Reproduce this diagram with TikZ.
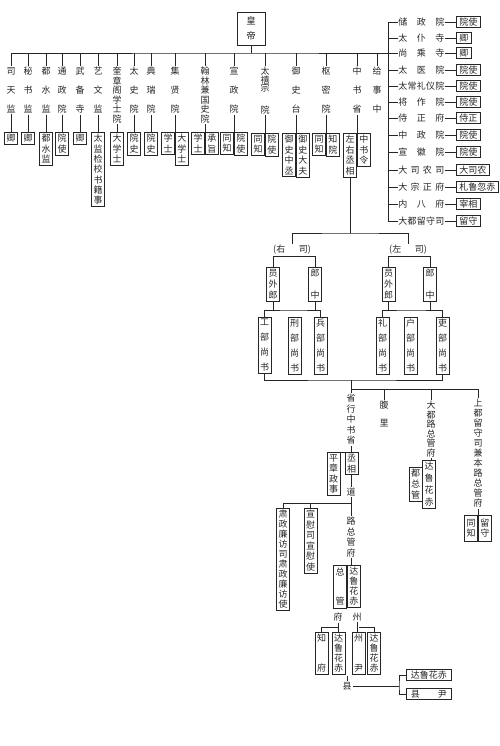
\documentclass[tikz,border=0pt]{standalone}
\usepackage{fontspec}
\setmainfont{Noto Sans CJK SC}
\usetikzlibrary{positioning,calc}
\newcommand\spr[2][46pt]{\makebox[#1]{#2}}

\begin{document}
\begin{tikzpicture}[x=1pt, y=-1pt, line width=0.6pt, color=black!85,
    every node/.style={inner sep=1pt, align=center, font=\fontsize{9}{10.5}\selectfont},
    dept/.style={anchor=north, font=\fontsize{9}{#1}\selectfont}, dept/.default=19,
    office/.style={draw, inner sep=2pt, minimum width=13pt, font=\fontsize{9}{#1}\selectfont}, office/.default=10.5,
    offh/.style={draw, anchor=west, inner xsep=3pt, inner ysep=1.6pt},
    rowtxt/.style={anchor=west, inner sep=0pt}]
    \useasboundingbox[fill=white] (0,0) rectangle (500,746);

    % emperor and the top bar
    \node[office=15, font=\fontsize{9.5}{15}\selectfont, minimum width=28pt, minimum height=33pt] (HD) at (251,28.5) {皇\\帝};
    \coordinate (TB) at (251,53);
    \coordinate (RT) at (388,22);
    \coordinate (RB) at (388,221);
    \draw (HD.south) -- (TB);

    % central offices
    \node[dept] (STJ) at (11,66) {司\\天\\监};
    \node[dept] (MSJ) at (28,66) {秘\\书\\监};
    \node[dept] (DSJ) at (46,66) {都\\水\\监};
    \node[dept] (TZY) at (62,66) {通\\政\\院};
    \node[dept] (WBS) at (80,66) {武\\备\\寺};
    \node[dept] (YWJ) at (98,66) {艺\\文\\监};
    \node[dept=9.5] (KZG) at (117,66) {奎\\章\\阁\\学\\士\\院};
    \node[dept] (TSY) at (134,66) {太\\史\\院};
    \node[dept] (DRY) at (151,66) {典\\瑞\\院};
    \node[dept] (JXY) at (175,66) {集\\贤\\院};
    \node[dept=9.5] (HLY) at (205,66) {翰\\林\\兼\\国\\史\\院};
    \node[dept] (XZY) at (234,66) {宣\\政\\院};
    \node[dept=8.5] (TXZ) at (265,66) {太\\禧\\宗\\[13pt]院};
    \node[dept] (YST) at (296,66) {御\\史\\台};
    \node[dept] (SMY) at (326,66) {枢\\密\\院};
    \node[dept] (ZSS) at (357,66) {中\\书\\省};
    \node[dept] (JSZ) at (377,66) {给\\事\\中};

    \draw (STJ.north) |- (TB) -- (TB -| RT);
    \draw (MSJ.north) -- (MSJ.north |- TB) (DSJ.north) -- (DSJ.north |- TB)
          (TZY.north) -- (TZY.north |- TB) (WBS.north) -- (WBS.north |- TB)
          (YWJ.north) -- (YWJ.north |- TB) (KZG.north) -- (KZG.north |- TB)
          (TSY.north) -- (TSY.north |- TB) (DRY.north) -- (DRY.north |- TB)
          (JXY.north) -- (JXY.north |- TB) (HLY.north) -- (HLY.north |- TB)
          (XZY.north) -- (XZY.north |- TB) (TXZ.north) -- (TXZ.north |- TB)
          (YST.north) -- (YST.north |- TB) (SMY.north) -- (SMY.north |- TB)
          (ZSS.north) -- (ZSS.north |- TB) (JSZ.north) -- (JSZ.north |- TB);

    % their heads
    \node[office, anchor=north] (STJ1) at (11,132) {卿};
    \node[office, anchor=north] (MSJ1) at (28,132) {卿};
    \node[office, anchor=north] (DSJ1) at (46,132) {都\\水\\监};
    \node[office, anchor=north] (TZY1) at (62,132) {院\\使};
    \node[office, anchor=north] (WBS1) at (80,132) {卿};
    \node[office=10.3, anchor=north] (YWJ1) at (98,132) {太\\监\\检\\校\\书\\籍\\事};
    \node[office, anchor=north] (KZG1) at (117,132) {大\\学\\士};
    \node[office, anchor=north] (TSY1) at (134,132) {院\\史};
    \node[office, anchor=north] (DRY1) at (151,132) {院\\史};
    \node[office, anchor=north east] (JXY1) at (175,132) {学\\士};
    \node[office, anchor=north west] (JXY2) at (175,132) {大\\学\\士};
    \node[office, anchor=north east] (HLY1) at (205,132) {学\\士};
    \node[office, anchor=north west] (HLY2) at (205,132) {承\\旨};
    \node[office, anchor=north east] (XZY1) at (234,132) {同\\知};
    \node[office, anchor=north west] (XZY2) at (234,132) {院\\使};
    \node[office, anchor=north east] (TXZ1) at (265,133) {同\\知};
    \node[office, anchor=north west] (TXZ2) at (265,133) {院\\使};
    \node[office, anchor=north east] (YST1) at (296,133) {御\\史\\中\\丞};
    \node[office, anchor=north west] (YST2) at (296,133) {御\\史\\大\\夫};
    \node[office, anchor=north east] (SMY1) at (326,133) {同\\知};
    \node[office, anchor=north west] (SMY2) at (326,133) {知\\院};
    \node[office, anchor=north east] (ZYCX) at (357,133) {左\\右\\丞\\相};
    \node[office, anchor=north west] (ZSL) at (357,133) {中\\书\\令};

    \draw (STJ.south) -- (STJ1.north) (MSJ.south) -- (MSJ1.north)
          (DSJ.south) -- (DSJ1.north) (TZY.south) -- (TZY1.north)
          (WBS.south) -- (WBS1.north) (YWJ.south) -- (YWJ1.north)
          (KZG.south) -- (KZG1.north) (TSY.south) -- (TSY1.north)
          (DRY.south) -- (DRY1.north) (JXY.south) -- (JXY1.north east)
          (HLY.south) -- (HLY1.north east) (XZY.south) -- (XZY1.north east)
          (TXZ.south) -- (TXZ1.north east) (YST.south) -- (YST1.north east)
          (SMY.south) -- (SMY1.north east) (ZSS.south) -- (ZYCX.north east);

    % right column
    \draw (RT) -- (RB);
    \node[rowtxt] (CZY) at (398,22) {\spr{储\hfill 政\hfill 院}};
    \node[offh] (CZY1) at (456,22) {院使};
    \node[rowtxt] (TPS) at (398,38) {\spr{太\hfill 仆\hfill 寺}};
    \node[offh] (TPS1) at (456,38) {卿};
    \node[rowtxt] (SCS) at (398,53) {\spr{尚\hfill 乘\hfill 寺}};
    \node[offh] (SCS1) at (456,53) {卿};
    \node[rowtxt] (TYY) at (398,70) {\spr{太\hfill 医\hfill 院}};
    \node[offh] (TYY1) at (456,70) {院使};
    \node[rowtxt] (TCL) at (398,86) {\spr{太\hfill 常\hfill 礼\hfill 仪\hfill 院}};
    \node[offh] (TCL1) at (456,86) {院使};
    \node[rowtxt] (JZY) at (398,102) {\spr{将\hfill 作\hfill 院}};
    \node[offh] (JZY1) at (456,102) {院使};
    \node[rowtxt] (SZF) at (398,118) {\spr{侍\hfill 正\hfill 府}};
    \node[offh] (SZF1) at (456,118) {侍正};
    \node[rowtxt] (ZZY) at (398,135) {\spr{中\hfill 政\hfill 院}};
    \node[offh] (ZZY1) at (456,135) {院使};
    \node[rowtxt] (XHY) at (398,152) {\spr{宣\hfill 徽\hfill 院}};
    \node[offh] (XHY1) at (456,152) {院使};
    \node[rowtxt] (DSN) at (398,170) {\spr{大\hfill 司\hfill 农\hfill 司}};
    \node[offh] (DSN1) at (456,170) {大司农};
    \node[rowtxt] (DZZ) at (398,187) {\spr{大\hfill 宗\hfill 正\hfill 府}};
    \node[offh] (DZZ1) at (456,187) {札鲁忽赤};
    \node[rowtxt] (NBF) at (398,204) {\spr{内\hfill 八\hfill 府}};
    \node[offh] (NBF1) at (456,204) {宰相};
    \node[rowtxt] (DDLS) at (398,221) {\spr{大\hfill 都\hfill 留\hfill 守\hfill 司}};
    \node[offh] (DDLS1) at (456,221) {留守};

    \draw (CZY.west -| RT) -- (CZY.west) (CZY.east) -- (CZY1.west);
    \draw (TPS.west -| RT) -- (TPS.west) (TPS.east) -- (TPS1.west);
    \draw (SCS.west -| RT) -- (SCS.west) (SCS.east) -- (SCS1.west);
    \draw (TYY.west -| RT) -- (TYY.west) (TYY.east) -- (TYY1.west);
    \draw (TCL.west -| RT) -- (TCL.west) (TCL.east) -- (TCL1.west);
    \draw (JZY.west -| RT) -- (JZY.west) (JZY.east) -- (JZY1.west);
    \draw (SZF.west -| RT) -- (SZF.west) (SZF.east) -- (SZF1.west);
    \draw (ZZY.west -| RT) -- (ZZY.west) (ZZY.east) -- (ZZY1.west);
    \draw (XHY.west -| RT) -- (XHY.west) (XHY.east) -- (XHY1.west);
    \draw (DSN.west -| RT) -- (DSN.west) (DSN.east) -- (DSN1.west);
    \draw (DZZ.west -| RT) -- (DZZ.west) (DZZ.east) -- (DZZ1.west);
    \draw (NBF.west -| RT) -- (NBF.west) (NBF.east) -- (NBF1.west);
    \draw (DDLS.west -| RT) -- (DDLS.west) (DDLS.east) -- (DDLS1.west);

    % right and left offices under the chancellors
    \coordinate (ZX) at (350,233);
    \node (YS) at (292,250) {(右\quad\enspace 司)};
    \node (ZS) at (408,250) {(左\quad\enspace 司)};
    \draw (ZYCX.south) -- (ZYCX.south |- ZX);
    \draw (YS.north) |- (ZYCX.south |- ZX) -| (ZS.north);

    \node[office=11, anchor=north] (YWL1) at (273,267) {员\\外\\郎};
    \node[office=11, anchor=north] (LZ1) at (315,267) {郎\\[11pt]中};
    \node[office=11, anchor=north] (YWL2) at (388.5,267) {员\\外\\郎};
    \node[office=11, anchor=north] (LZ2) at (430,267) {郎\\[11pt]中};
    \draw (YWL1.north) |- (YS.south) -| (LZ1.north);
    \draw (YWL2.north) |- (ZS.south) -| (LZ2.north);

    \node[office=15, anchor=north] (GB) at (264.5,317) {工\\部\\尚\\书};
    \node[office=15, anchor=north] (XB) at (294.5,317) {刑\\部\\尚\\书};
    \node[office=15, anchor=north] (BB) at (320.5,317) {兵\\部\\尚\\书};
    \node[office=15, anchor=north] (LB) at (382.5,317) {礼\\部\\尚\\书};
    \node[office=15, anchor=north] (HB) at (410.5,317) {户\\部\\尚\\书};
    \node[office=15, anchor=north] (LIB) at (442.5,317) {吏\\部\\尚\\书};
    \coordinate (YSB) at (294.5,310);
    \coordinate (ZSB) at (410.5,310);
    \draw (GB.north) |- (YSB) -| (BB.north);
    \draw (YWL1.south) -- (YWL1.south |- YSB) (LZ1.south) -- (LZ1.south |- YSB);
    \draw (LB.north) |- (ZSB) -| (LIB.north);
    \draw (YWL2.south) -- (YWL2.south |- ZSB) (LZ2.south) -- (LZ2.south |- ZSB);

    % local government
    \coordinate (LBB) at (351,380);
    \coordinate (DFB) at (351,389);
    \draw (GB.south) |- (LBB) -| (LIB.south);
    \node[dept=10.5] (XZS) at (351,393) {省\\行\\中\\书\\省};
    \node[dept=18] (FL) at (384,400) {腹\\里};
    \node[dept=9.5] (DDZ) at (431,400) {大\\都\\路\\总\\管\\府};
    \node[dept=10] (SDZ) at (478,398) {上\\都\\留\\守\\司\\兼\\本\\路\\总\\管\\府};
    \draw (LBB) -- (XZS.north);
    \draw (DFB) -| (SDZ.north);
    \draw (FL.north) -- (FL.north |- DFB) (DDZ.north) -- (DDZ.north |- DFB);

    \node[office=12, anchor=north] (DDZ1) at (429,460) {达\\鲁\\花\\赤};
    \node[office=11, anchor=north east] (DDZ2) at (422.5,467) {都\\总\\管};
    \draw (DDZ.south) -- (DDZ.south |- DDZ1.north);
    \node[office, anchor=north east, minimum height=26pt] (SDZ1) at (478,515) {同\\知};
    \node[office, anchor=north west, minimum height=26pt] (SDZ2) at (478,515) {留\\守};
    \draw (SDZ.south) -- (SDZ1.north east);

    \node[office, anchor=north] (CX) at (351.5,452) {丞\\相};
    \node[office, anchor=north] (PZ) at (333.5,452) {平\\章\\政\\事};
    \draw (XZS.south) -- (XZS.south |- CX.north) (PZ.north east) -- (CX.north west);
    \node (DAO) at (351,492) {道};
    \draw (CX.south -| DAO) -- (DAO.north);
    \coordinate (DB) at (351,503);
    \node[office=10, anchor=north] (SZ) at (283,508) {肃\\政\\廉\\访\\司\\肃\\政\\廉\\访\\使};
    \node[office, anchor=north] (XW) at (310.5,508) {宣\\慰\\司\\宣\\慰\\使};
    \draw (SZ.north) |- (DB) (XW.north) -- (XW.north |- DB);

    \node[dept=10.5] (LZGF) at (351,516) {路\\总\\管\\府};
    \draw (DAO.south) -- (LZGF.north);
    \node[office=10, anchor=north west] (LDH) at (347,565) {达\\鲁\\花\\赤};
    \node[office=11, anchor=north east, minimum height=42.5pt] (LZG) at (347,565) {总\\[18pt]管};
    \draw (LZGF.south) -- (LZGF.south |- LDH.north);

    \node (FU) at (338,617) {府};
    \node (ZHOU) at (357,617) {州};
    \node[office=10, anchor=north] (ZF) at (321.5,632) {知\\[20pt]府};
    \node[office=10, anchor=north] (FDH) at (338.5,632) {达\\鲁\\花\\赤};
    \node[office=10, anchor=north] (ZY) at (358.5,632) {州\\[20pt]尹};
    \node[office=10, anchor=north] (ZDH) at (374,632) {达\\鲁\\花\\赤};
    \coordinate (FB) at (330,627);
    \draw (FU.south) -- (FU.south |- FDH.north) (ZF.north) |- (FDH.north |- FB);
    \draw (ZHOU.south) -- (ZHOU.south |- ZY.north) (ZDH.north) |- (ZY.north |- FB);

    \node (XIAN) at (347,686) {县};
    \coordinate (XT) at (347,676);
    \coordinate (XJ) at (399,686);
    \node[offh, minimum width=45pt] (XDH) at (406,675) {达鲁花赤};
    \node[offh, minimum width=45pt] (XY) at (406,694) {\spr[36pt]{县\hfill 尹}};
    \draw (XIAN.north) -- (XT) (XIAN.east) -- (XJ);
    \draw (XDH.west) -| (XJ) |- (XY.west);
\end{tikzpicture}
\end{document}
